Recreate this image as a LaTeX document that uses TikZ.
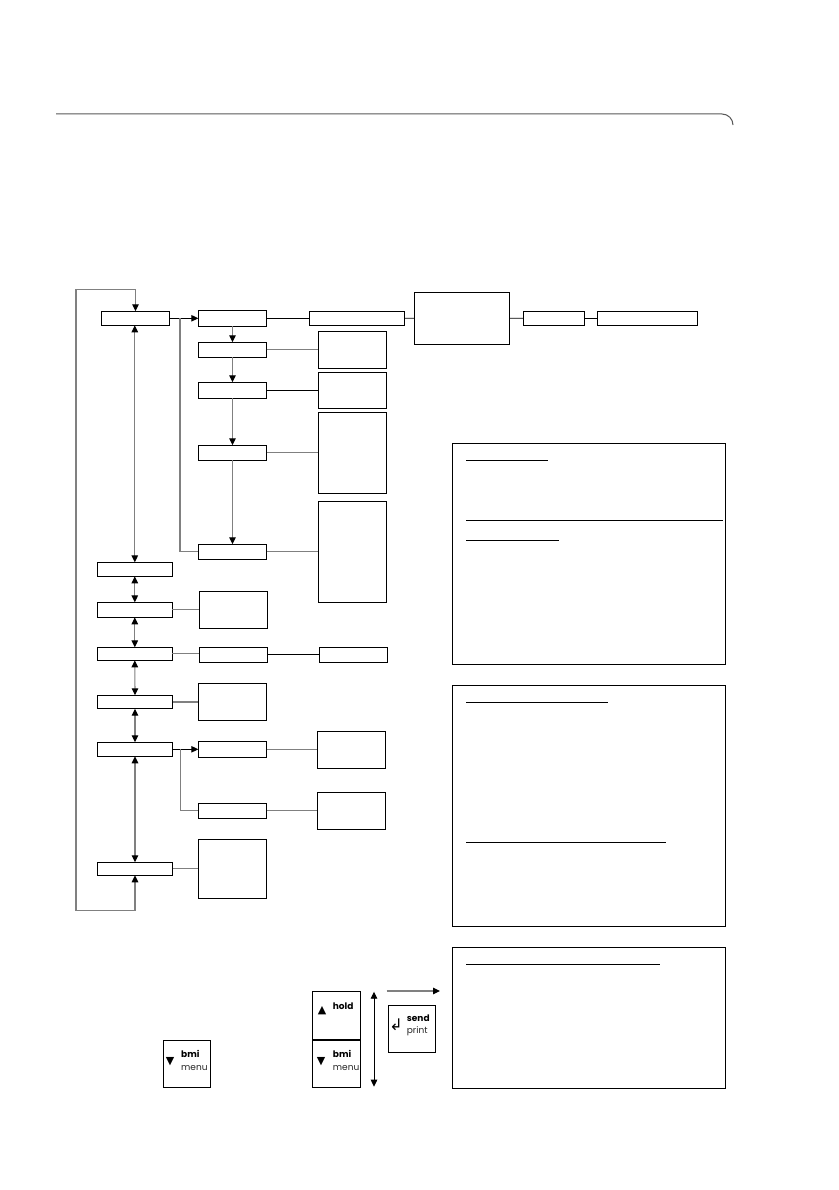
\documentclass[tikz,border=0pt]{standalone}
\usepackage{fontspec}
\newfontfamily\keyfont{Poppins}
\newfontfamily\symfont{DejaVu Sans}
\usetikzlibrary{arrows.meta}
\tikzset{
  box/.style={draw=black,line width=0.9pt,inner sep=0pt,outer sep=0pt},
  gl/.style={draw=black!50,line width=1.1pt},
  bl/.style={draw=black,line width=0.9pt},
  tipa/.tip={Triangle[length=7pt,width=6.5pt,color=black]},
  arr/.style={-tipa},
  dbl/.style={tipa-tipa},
  keyb/.style={anchor=base west,inner sep=0pt,font=\keyfont\bfseries\fontsize{9}{11}\selectfont},
  keyr/.style={anchor=base west,inner sep=0pt,font=\keyfont\fontsize{9}{11}\selectfont,text=black!85},
  keys/.style={inner sep=0pt,font=\symfont\fontsize{11}{12}\selectfont},
  under/.style={draw=black,line width=1pt},
  rule/.style={draw=black!65,line width=1pt,rounded corners=11pt}
}
\newcommand\bx[5]{\node[box,minimum width=#4pt,minimum height=#5pt] (#1) at (#2,#3) {};}
\begin{document}
\begin{tikzpicture}[x=1pt,y=-1pt]
\fill[white] (0,0) rectangle (838,1190);
\useasboundingbox (0,0) rectangle (838,1190);

% header rule
\draw[rule] (56,114) -- (733,114) -- (733,125);

% top row
\bx{A}{135.5}{318.3}{68.4}{14}
\bx{B}{232.5}{318.3}{68.4}{16}
\bx{C}{356.8}{318.3}{95}{14}
\bx{D}{461.8}{318.2}{95}{51.7}
\bx{E}{553.8}{318.3}{61}{14}
\bx{F}{647.3}{318.3}{100}{14}
% sub column
\bx{B2}{232.5}{349.8}{68.4}{15}
\bx{B3}{232.5}{390.3}{68.4}{16}
\bx{B4}{232.5}{452.8}{68.4}{15}
\bx{B5}{232.5}{551.8}{68.4}{15}
\bx{R2}{352.5}{349.8}{68.4}{37}
\bx{R3}{352.5}{390.3}{68.4}{36}
\bx{R4}{352.5}{452.8}{68.4}{81}
\bx{R5}{352.5}{551.8}{68.4}{101}
% left column
\bx{L1}{134.8}{569.3}{75}{14}
\bx{L2}{134.8}{609.8}{75}{15}
\bx{L3}{134.8}{653.8}{75}{13}
\bx{L4}{135}{702}{75.4}{13.4}
\bx{L5}{135}{749.3}{75.4}{14}
\bx{L6}{135}{868.8}{75.4}{13}
\bx{M2}{233.5}{609.8}{68.4}{37}
\bx{M3}{233.5}{654.8}{68.4}{15}
\bx{N3}{353.5}{654.8}{68.4}{15}
\bx{M4}{232.5}{701.8}{68.4}{37}
\bx{M5a}{232.5}{749.3}{68.4}{16}
\bx{N5a}{351.5}{750}{68.4}{37.4}
\bx{M5b}{232.5}{810.8}{68.4}{15}
\bx{N5b}{351.5}{810.8}{68.4}{37}
\bx{M6}{232.5}{868.8}{68.4}{59}
% text panels
\bx{P1}{589}{553.8}{273.4}{221}
\bx{P2}{589}{805.5}{273.4}{241}
\bx{P3}{589}{1017.7}{273.4}{140.7}
% keys
\bx{K1}{186.8}{1063.7}{47}{46.7}
\bx{K2}{336.7}{1015}{48}{48}
\bx{K3}{336.7}{1063.7}{48}{47.3}
\bx{K4}{411.8}{1028.7}{47}{47.3}

% panel heading underlines
\draw[under] (466,460.3) -- (547.7,460.3);
\draw[under] (466,520) -- (722.7,520);
\draw[under] (466,540) -- (559.3,540);
\draw[under] (466,702.3) -- (607.7,702.3);
\draw[under] (466,842.3) -- (666,842.3);
\draw[under] (466,964) -- (660,964);

% loop
\coordinate (lt) at (76,289.5);
\coordinate (lb) at (76,910.3);
\draw[gl,dbl] (L6.south) |- (lb) -- (lt) -| (A.north);

% top row connectors
\coordinate (j1) at (180,318.3);
\draw[bl,arr] (A.east) -- (B.west);
\draw[gl] (j1) |- (B5.west);
\draw[bl] (B.east) -- (C.west);
\draw[bl] (C.east) -- (D.west);
\draw[bl] (D.east) -- (E.west);
\draw[bl] (E.east) -- (F.west);
\draw[gl,arr] (B.south) -- (B2.north);
\draw[gl,arr] (B2.south) -- (B3.north);
\draw[gl,arr] (B3.south) -- (B4.north);
\draw[gl,arr] (B4.south) -- (B5.north);
\draw[gl] (B2.east) -- (R2.west);
\draw[bl] (B3.east) -- (R3.west);
\draw[gl] (B4.east) -- (R4.west);
\draw[gl] (B5.east) -- (R5.west);

% left column
\draw[gl,dbl] (A.south -| L1.north) -- (L1.north);
\draw[gl,dbl] (L1.south) -- (L2.north);
\draw[gl,dbl] (L2.south) -- (L3.north);
\draw[gl,dbl] (L3.south) -- (L4.north);
\draw[gl,dbl] (L4.south) -- (L5.north);
\draw[gl,dbl] (L5.south) -- (L6.north);
\draw[gl] (L2.east) -- (M2.west);
\draw[gl] (L3.east) -- (M3.west |- L3.east);
\draw[bl] (M3.east) -- (N3.west);
\draw[gl] (L4.east) -- (M4.west |- L4.east);
\coordinate (j2) at (180.7,749.3);
\draw[bl,arr] (L5.east) -- (M5a.west);
\draw[gl] (j2) |- (M5b.west);
\draw[gl] (M5a.east) -- (N5a.west |- M5a.east);
\draw[gl] (M5b.east) -- (N5b.west);
\draw[gl] (L6.east) -- (M6.west |- L6.east);

% key labels
\node[keys] (k1s) at (170,1062) {▼};
\node[keyb] (k1a) at (181,1057.5) {bmi};
\node[keyr] (k1b) at (181,1070) {menu};
\node[keys] (k2s) at (322,1010.7) {▲};
\node[keyb] (k2a) at (332.7,1009.3) {hold};
\node[keys] (k3s) at (321,1061.7) {▼};
\node[keyb] (k3a) at (332.7,1057.3) {bmi};
\node[keyr] (k3b) at (332.7,1070) {menu};
\node[inner sep=0pt,font=\symfont\fontsize{16}{16}\selectfont] (k4s) at (396,1024.5) {↲};
\node[keyb] (k4a) at (406.7,1021.7) {send};
\node[keyr] (k4b) at (406.7,1033.3) {print};

% key arrows
\coordinate (v1) at (374,991.7);
\coordinate (v2) at (374,1086.7);
\draw[bl,dbl] (v1) -- (v2);
\coordinate (h1) at (386.7,991);
\coordinate (h2) at (440,991);
\draw[gl,arr] (h1) -- (h2);
\end{tikzpicture}
\end{document}
